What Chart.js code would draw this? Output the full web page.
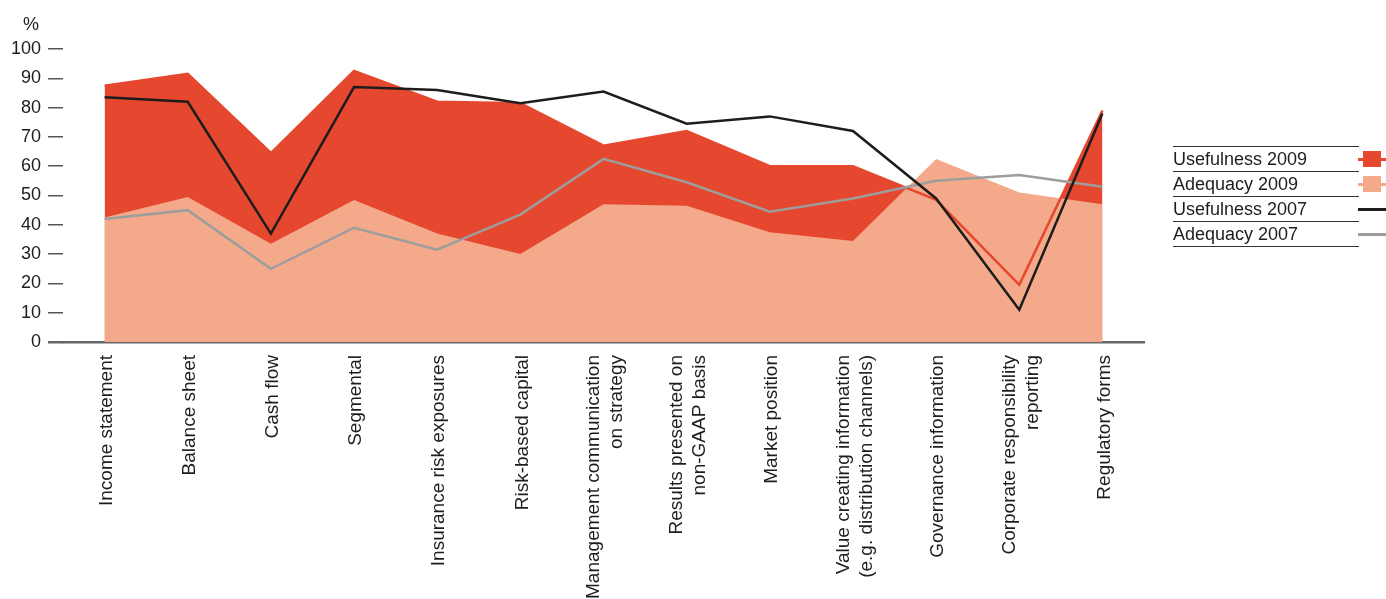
<!DOCTYPE html>
<html>
<head>
<meta charset="utf-8">
<script src="https://cdn.jsdelivr.net/npm/chart.js@4.4.0/dist/chart.umd.min.js"></script>
<style>
  html, body { margin:0; padding:0; background:#fff; overflow:hidden; }
  #wrap { position:relative; width:1386px; height:599px; }
  canvas { display:block; }
  #legend { position:absolute; left:1173px; top:146px; width:186px; font-family:'Liberation Sans', Arial, Helvetica, sans-serif; font-size:18px; color:#1d1d1b; }
  .row { position:relative; height:24px; line-height:25px; border-top:1.5px solid #333; white-space:nowrap; }
  .row:last-child { border-bottom:1.5px solid #333; }
  .sw { position:absolute; left:185px; top:0; width:28px; height:24px; }
  .sw .ln { position:absolute; left:0; right:0; top:11px; height:3px; }
  .sw .sq { position:absolute; left:5px; top:4px; width:18px; height:16px; }
</style>
</head>
<body>
<div id="wrap">
  <canvas id="c" width="1386" height="599"></canvas>
  <div id="legend"></div>
</div>
<script>
const categories = [
  "Income statement",
  "Balance sheet",
  "Cash flow",
  "Segmental",
  "Insurance risk exposures",
  "Risk-based capital",
  ["Management communication", "on strategy"],
  ["Results presented on", "non-GAAP basis"],
  "Market position",
  ["Value creating information", "(e.g. distribution channels)"],
  "Governance information",
  ["Corporate responsibility", "reporting"],
  "Regulatory forms"
];
const usefulness2009 = [87.5, 91.5, 64.5, 92.5, 82, 81.5, 67, 72, 60, 60, 48.5, 19.5, 79];
const adequacy2009   = [42.5, 49.5, 33.5, 48.5, 37, 30, 47, 46.5, 37.5, 34.5, 62.5, 51, 47];
const usefulness2007 = [83.5, 82, 37, 87, 86, 81.5, 85.5, 74.5, 77, 72, 49, 11, 78];
const adequacy2007   = [42, 45, 25, 39, 31.5, 43.5, 62.5, 54.5, 44.5, 49, 55, 57, 53];
const seriesNames = ["Usefulness 2009", "Adequacy 2009", "Usefulness 2007", "Adequacy 2007"];
const yTicks = [0, 10, 20, 30, 40, 50, 60, 70, 80, 90, 100];
const yUnit = "%";

const RED = "#e5472f", SALMON = "#f3a98a", BLACK = "#1d1d1b", GREY = "#9d9d9c";
const FONT = "'Liberation Sans', Arial, Helvetica, sans-serif";

const unitPlugin = {
  id: 'unit',
  afterDraw(chart) {
    const c = chart.ctx;
    c.save();
    c.font = "18px " + FONT;
    c.fillStyle = BLACK;
    c.textAlign = "center";
    c.textBaseline = "middle";
    c.fillText(yUnit, 31, 25);
    c.restore();
  }
};

// category labels drawn at the x scale's tick pixels, lines centred on each tick
const xLabelPlugin = {
  id: 'xlabels',
  afterDraw(chart) {
    const sx = chart.scales.x;
    const c = chart.ctx;
    const lh = 23;
    const top = sx.top + 13;
    c.save();
    c.font = "19px " + FONT;
    c.fillStyle = BLACK;
    c.textAlign = "right";
    c.textBaseline = "middle";
    categories.forEach((lab, i) => {
      const lines = Array.isArray(lab) ? lab : [lab];
      const px = sx.getPixelForTick(i) + 2;
      lines.forEach((t, j) => {
        const x = px + (j - (lines.length - 1) / 2) * lh;
        c.save();
        c.translate(x, top);
        c.rotate(-Math.PI / 2);
        c.fillText(t, 0, 0);
        c.restore();
      });
    });
    c.restore();
  }
};

new Chart(document.getElementById('c'), {
  type: 'line',
  data: {
    labels: categories,
    datasets: [
      { label: seriesNames[0], data: usefulness2009, backgroundColor: RED, borderWidth: 0, borderColor: RED, fill: 'origin', pointRadius: 0, order: 5 },
      { label: seriesNames[1], data: adequacy2009, backgroundColor: SALMON, borderWidth: 0, borderColor: SALMON, fill: 'origin', pointRadius: 0, order: 4 },
      { label: seriesNames[0] + " line", data: usefulness2009, borderColor: RED, borderWidth: 2.5, fill: false, pointRadius: 0, order: 3 },
      { label: seriesNames[3], data: adequacy2007, borderColor: GREY, borderWidth: 2.5, fill: false, pointRadius: 0, order: 2 },
      { label: seriesNames[2], data: usefulness2007, borderColor: BLACK, borderWidth: 2.5, fill: false, pointRadius: 0, order: 1 }
    ]
  },
  options: {
    responsive: false,
    animation: false,
    layout: { padding: { top: 49, right: 242, left: 0, bottom: 0 } },
    elements: { line: { tension: 0, borderJoinStyle: 'miter' } },
    plugins: { legend: { display: false }, tooltip: { enabled: false } },
    scales: {
      x: {
        offset: true,
        grid: { display: true, drawOnChartArea: false, drawTicks: false },
        border: { display: true, color: '#666', width: 2.5 },
        ticks: { display: false },
        afterFit(s) { s.height = 257; }
      },
      y: {
        min: 0, max: 100,
        afterBuildTicks(s) { s.ticks = yTicks.map(v => ({ value: v })); },
        grid: {
          drawOnChartArea: false, drawTicks: true, tickLength: 15,
          color: (ctx) => ctx.tick && ctx.tick.value === 0 ? '#666' : '#555',
          lineWidth: (ctx) => ctx.tick && ctx.tick.value === 0 ? 2.5 : 1.5
        },
        border: { display: false },
        ticks: { padding: 7, color: BLACK, font: { family: FONT, size: 18 } },
        afterFit(s) { s.width = 63; }
      }
    }
  },
  plugins: [unitPlugin, xLabelPlugin]
});

// legend
const legendDefs = [
  { name: seriesNames[0], color: RED, square: true },
  { name: seriesNames[1], color: SALMON, square: true },
  { name: seriesNames[2], color: BLACK, square: false },
  { name: seriesNames[3], color: GREY, square: false }
];
const lg = document.getElementById('legend');
legendDefs.forEach(d => {
  const r = document.createElement('div');
  r.className = 'row';
  r.textContent = d.name;
  const sw = document.createElement('div');
  sw.className = 'sw';
  const ln = document.createElement('div');
  ln.className = 'ln';
  ln.style.background = d.color;
  sw.appendChild(ln);
  if (d.square) {
    const sq = document.createElement('div');
    sq.className = 'sq';
    sq.style.background = d.color;
    sw.appendChild(sq);
  }
  r.appendChild(sw);
  lg.appendChild(r);
});
</script>
</body>
</html>
